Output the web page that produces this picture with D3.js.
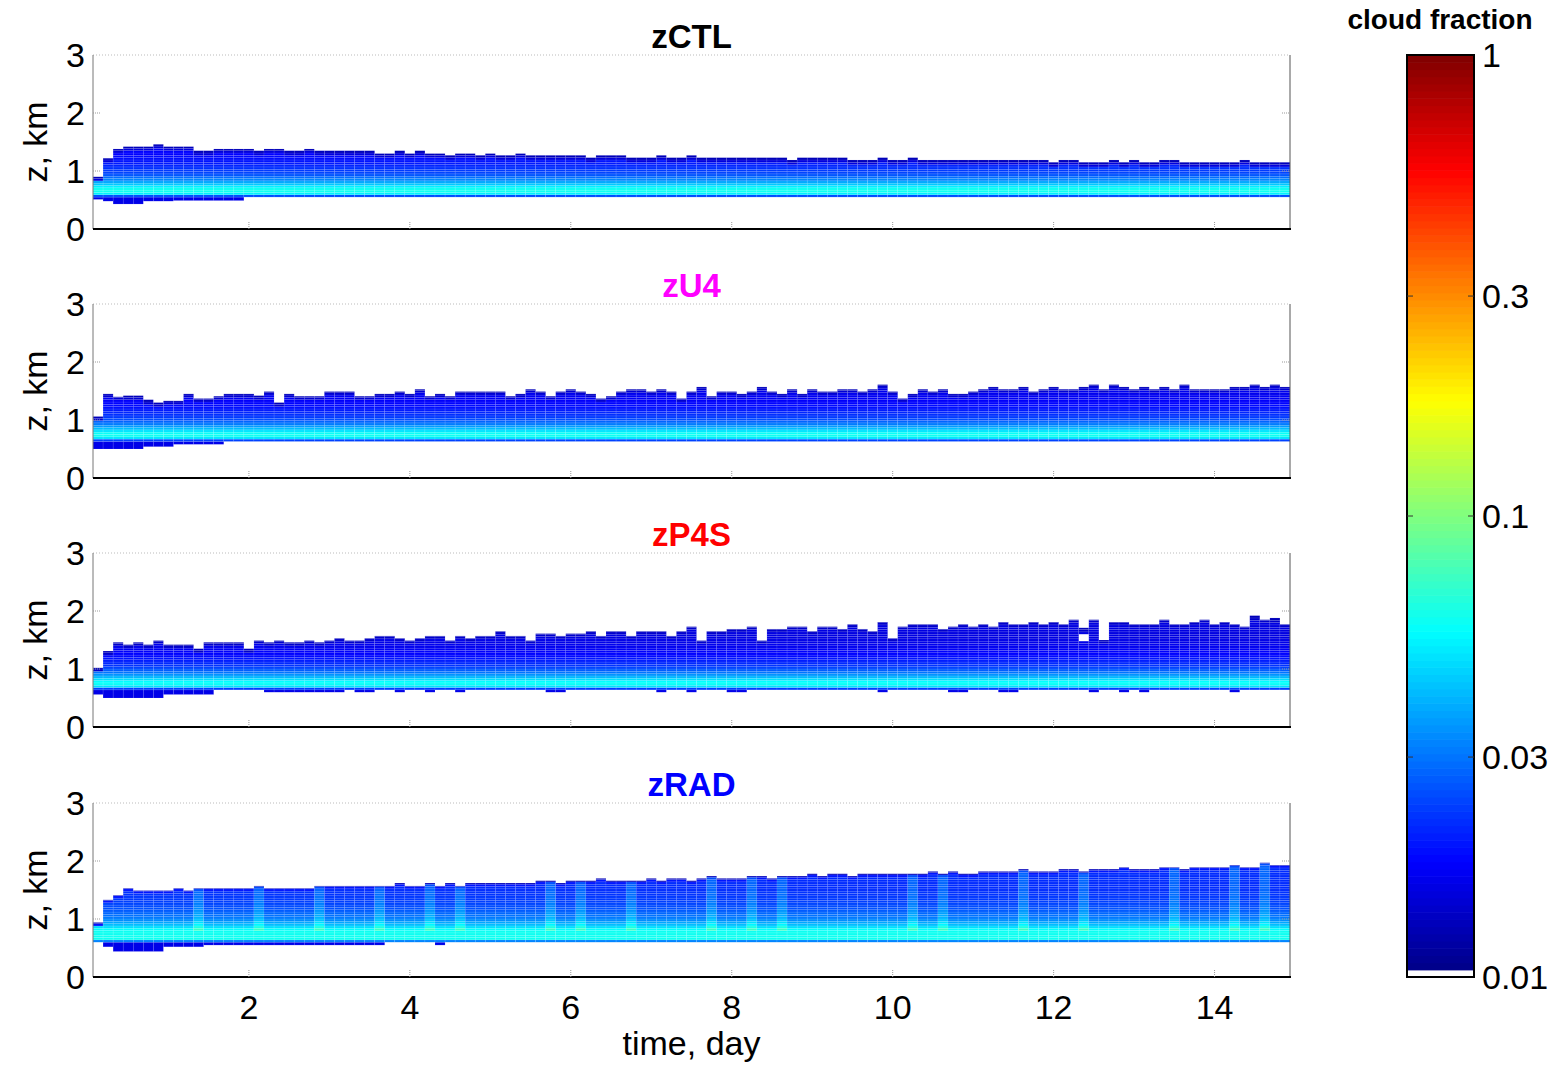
<!DOCTYPE html>
<meta charset="utf-8">
<style>
  body { margin: 0; background: #fff; }
  svg text { font-family: "Liberation Sans", Arial, Helvetica, sans-serif; fill: #000; }
</style>
<body></body>
<script src="https://d3js.org/d3.v7.min.js"></script>
<script>

// ---- data ----
var runs = ["zCTL", "zU4", "zP4S", "zRAD"];
var titleColors = ["#000000", "#ff00ff", "#ff0000", "#0000ff"];

// 3-hourly columns, centre of column k is day k/8
var days = d3.range(1, 120).map(function (k) { return k / 8; });
var dayStep = 1 / 8;
var dz = 0.04;   // km, vertical level spacing

// cloud top height (km) per column
var topsCTL = [0.90,1.22,1.38,1.42,1.42,1.42,1.46,1.42,1.42,1.42,
  1.35,1.35,1.38,1.38,1.38,1.38,1.35,1.38,1.38,1.35,
  1.35,1.38,1.35,1.35,1.35,1.35,1.35,1.35,1.30,1.30,
  1.35,1.30,1.35,1.30,1.30,1.27,1.30,1.30,1.27,1.30,
  1.27,1.27,1.30,1.27,1.27,1.27,1.27,1.27,1.27,1.23,
  1.27,1.27,1.27,1.23,1.23,1.23,1.27,1.23,1.23,1.27,
  1.23,1.23,1.23,1.23,1.23,1.23,1.23,1.23,1.23,1.19,
  1.23,1.23,1.23,1.23,1.23,1.19,1.19,1.19,1.23,1.19,
  1.19,1.23,1.19,1.19,1.19,1.19,1.19,1.19,1.19,1.19,
  1.19,1.19,1.19,1.19,1.19,1.15,1.19,1.19,1.15,1.15,
  1.15,1.19,1.15,1.19,1.15,1.15,1.19,1.19,1.15,1.15,
  1.15,1.15,1.15,1.15,1.19,1.15,1.15,1.15,1.15];

var topsU4 = [1.06,1.45,1.40,1.42,1.42,1.35,1.30,1.33,1.33,1.45,
  1.37,1.37,1.41,1.45,1.45,1.45,1.42,1.49,1.30,1.45,
  1.41,1.41,1.41,1.49,1.49,1.49,1.41,1.41,1.45,1.45,
  1.49,1.45,1.53,1.41,1.45,1.41,1.49,1.49,1.49,1.49,
  1.49,1.41,1.45,1.53,1.49,1.41,1.49,1.53,1.49,1.45,
  1.37,1.41,1.49,1.53,1.53,1.49,1.53,1.49,1.37,1.49,
  1.57,1.41,1.49,1.49,1.45,1.49,1.57,1.49,1.45,1.53,
  1.45,1.53,1.49,1.49,1.53,1.53,1.49,1.53,1.61,1.49,
  1.37,1.45,1.53,1.49,1.53,1.45,1.45,1.49,1.53,1.57,
  1.53,1.53,1.57,1.49,1.53,1.57,1.53,1.53,1.57,1.61,
  1.53,1.61,1.57,1.53,1.57,1.53,1.57,1.53,1.61,1.53,
  1.53,1.53,1.53,1.57,1.57,1.61,1.57,1.61,1.57];

var topsP4S = [1.02,1.31,1.46,1.42,1.46,1.42,1.49,1.42,1.42,1.42,
  1.35,1.46,1.46,1.46,1.46,1.35,1.49,1.46,1.49,1.46,
  1.46,1.49,1.46,1.49,1.53,1.49,1.49,1.53,1.57,1.57,
  1.53,1.49,1.53,1.57,1.57,1.49,1.57,1.53,1.57,1.57,
  1.65,1.57,1.57,1.49,1.61,1.61,1.57,1.61,1.61,1.65,
  1.57,1.65,1.65,1.57,1.65,1.65,1.65,1.57,1.65,1.73,
  1.49,1.65,1.65,1.69,1.69,1.73,1.49,1.69,1.69,1.73,
  1.73,1.65,1.73,1.73,1.69,1.77,1.69,1.65,1.81,1.53,
  1.73,1.77,1.77,1.77,1.69,1.73,1.77,1.73,1.77,1.73,
  1.81,1.77,1.77,1.81,1.77,1.81,1.77,1.85,1.71,1.85,
  1.50,1.81,1.81,1.77,1.77,1.77,1.85,1.77,1.77,1.81,
  1.85,1.77,1.81,1.77,1.73,1.92,1.85,1.88,1.77];

var topsRAD = [0.94,1.33,1.41,1.53,1.49,1.49,1.49,1.49,1.53,1.49,
  1.53,1.53,1.53,1.53,1.53,1.53,1.57,1.53,1.53,1.53,
  1.53,1.53,1.57,1.57,1.57,1.57,1.57,1.57,1.57,1.57,
  1.62,1.57,1.57,1.62,1.57,1.62,1.57,1.62,1.62,1.62,
  1.62,1.62,1.62,1.62,1.66,1.66,1.62,1.66,1.66,1.66,
  1.70,1.66,1.66,1.66,1.66,1.70,1.66,1.70,1.70,1.66,
  1.70,1.74,1.70,1.70,1.70,1.74,1.74,1.70,1.74,1.74,
  1.74,1.78,1.74,1.78,1.78,1.74,1.78,1.78,1.78,1.78,
  1.78,1.78,1.78,1.82,1.78,1.82,1.78,1.78,1.82,1.82,
  1.82,1.82,1.86,1.82,1.82,1.82,1.86,1.86,1.82,1.86,
  1.86,1.86,1.89,1.86,1.86,1.86,1.89,1.89,1.86,1.89,
  1.89,1.89,1.89,1.93,1.89,1.89,1.97,1.93,1.93];

// main cloud base (km) per run
var baseKm = [0.55, 0.63, 0.64, 0.60];

// columns whose cloud reaches below the main base: [firstCol, lastCol, bottom km]
var lowCTL = [[1,1,0.51],[2,2,0.48],[3,5,0.43],[6,8,0.48],[9,15,0.49]];
var lowU4 = [[1,5,0.50],[6,8,0.54],[9,13,0.58]];
var lowP4S = [[1,1,0.56],[2,7,0.50],[8,12,0.56],[18,25,0.60],[27,28,0.60],[31,31,0.60],
  [34,34,0.60],[37,37,0.60],[46,47,0.60],[57,57,0.60],[60,60,0.60],[64,65,0.60],
  [79,79,0.60],[86,87,0.60],[91,92,0.60],[100,100,0.60],[103,103,0.60],[105,105,0.60],[114,114,0.60]];
var lowRAD = [[2,2,0.52],[3,7,0.44],[8,11,0.52],[12,29,0.55],[35,35,0.55]];

// cloud-free gaps inside a column: [col, from km, to km]
var gapsP4S = [[99, 1.47, 1.63]];

// typical cloud fraction by level above the main base
var cfProfile = [0.024,0.05,0.06,0.058,0.05,0.042,0.036,0.031,0.028,0.025,
  0.023,0.022,0.021,0.020,0.019,0.0185,0.018,0.0175,0.017,0.017,
  0.0165,0.0165,0.016,0.016,0.016,0.016,0.016,0.016,0.016,0.016];
var cfTop = [0.013, 0.0145];     // top level, level below top
var cfBelowBase = 0.016;
var runFactor = [1.05, 1.0, 0.97, 1.35];
// brighter columns in zRAD (upper part of the layer)
var brightRAD = [11,17,23,29,34,37,46,49,54,62,66,69,82,85,93,99,108,114,117];

var yTicks = [0, 1, 2, 3];
var xTicks = [2, 4, 6, 8, 10, 12, 14];
var cbTicks = [1, 0.3, 0.1, 0.03, 0.01];

var tops = [topsCTL, topsU4, topsP4S, topsRAD];
var lows = [lowCTL, lowU4, lowP4S, lowRAD];
var gaps = [[], [], gapsP4S, []];
var bright = [[], [], [], brightRAD];

// ---- layout ----
var W = 1566, H = 1066;
var plotL = 93, plotR = 1290, panelH = 174;
var panelTop = [55, 304, 553, 803];

var svg = d3.select("body").append("svg")
    .attr("width", W)
    .attr("height", H);

var x = d3.scaleLinear()
    .domain([days[0] - dayStep / 2, days[days.length - 1] + dayStep / 2])
    .range([plotL, plotR]);

// jet colour map on log10 cloud fraction
function jet(t) {
  var c = function (v) { return Math.round(255 * Math.max(0, Math.min(1, v))); };
  return "rgb(" + c(1.5 - Math.abs(4 * t - 3)) + "," + c(1.5 - Math.abs(4 * t - 2)) + "," + c(1.5 - Math.abs(4 * t - 1)) + ")";
}
var cfScale = d3.scaleLog().domain([0.01, 1]).range([0, 1]).clamp(true);
function cfColor(v) { return jet(cfScale(v)); }

runs.forEach(function (run, p) {
  var g = svg.append("g").attr("transform", "translate(0," + panelTop[p] + ")");
  var y = d3.scaleLinear().domain([0, 3]).range([panelH, 0]);

  // build cells
  var cells = [];
  days.forEach(function (d, i) {
    var col = i + 1;
    var x0 = x(d - dayStep / 2), x1 = x(d + dayStep / 2);
    var top = tops[p][i];
    var base = baseKm[p];
    var isBright = bright[p].indexOf(col) >= 0;
    lows[p].forEach(function (lo) {
      if (col >= lo[0] && col <= lo[1]) {
        cells.push({x0: x0, x1: x1, z0: lo[2], z1: base, cf: cfBelowBase});
      }
    });
    var n = Math.ceil((top - base) / dz - 1e-6);
    for (var j = 0; j < n; j++) {
      var z0 = base + j * dz, z1 = Math.min(top, base + (j + 1) * dz);
      var skip = gaps[p].some(function (gp) {
        return gp[0] === col && z0 >= gp[1] - 1e-6 && z1 <= gp[2] + 1e-6;
      });
      if (skip) continue;
      var f = runFactor[p] * (isBright && j >= 5 ? 1.3 : 1);
      var v = cfProfile[Math.min(j, cfProfile.length - 1)] * f;
      if (j < 5) v = Math.min(v, 0.06);
      if (j === n - 1) v = cfTop[0];
      else if (j === n - 2) v = Math.min(v, cfTop[1] * f);
      cells.push({x0: x0, x1: x1, z0: z0, z1: z1, cf: v});
    }
  });

  g.append("g").selectAll("rect")
    .data(cells)
    .join("rect")
      .attr("x", function (c) { return c.x0; })
      .attr("y", function (c) { return y(c.z1); })
      .attr("width", function (c) { return c.x1 - c.x0; })
      .attr("height", function (c) { return y(c.z0) - y(c.z1); })
      .attr("fill", function (c) { return cfColor(c.cf); })
      .attr("stroke", "rgba(255,255,255,0.18)")
      .attr("stroke-width", 0.5);

  // frame
  g.append("line").attr("x1", plotL).attr("x2", plotR).attr("y1", 0).attr("y2", 0)
    .attr("stroke", "#bbb").attr("stroke-dasharray", "1,2");
  g.append("line").attr("x1", plotL).attr("x2", plotL).attr("y1", 0).attr("y2", panelH)
    .attr("stroke", "#777");
  g.append("line").attr("x1", plotR).attr("x2", plotR).attr("y1", 0).attr("y2", panelH)
    .attr("stroke", "#555");
  g.append("line").attr("x1", plotL).attr("x2", plotR + 1).attr("y1", panelH).attr("y2", panelH)
    .attr("stroke", "#000").attr("stroke-width", 2);

  // y ticks
  yTicks.forEach(function (t) {
    if (t > 0 && t < 3) {
      g.append("line").attr("x1", plotL).attr("x2", plotL + 8).attr("y1", y(t)).attr("y2", y(t))
        .attr("stroke", "#999").attr("stroke-dasharray", "1,1");
      g.append("line").attr("x1", plotR - 8).attr("x2", plotR).attr("y1", y(t)).attr("y2", y(t))
        .attr("stroke", "#999").attr("stroke-dasharray", "1,1");
    }
    g.append("text")
      .attr("x", 85).attr("y", y(t)).attr("dy", "0.36em")
      .attr("text-anchor", "end")
      .style("font-size", "34px")
      .text(t);
  });
  // x ticks
  xTicks.forEach(function (t) {
    g.append("line").attr("x1", x(t)).attr("x2", x(t)).attr("y1", panelH).attr("y2", panelH - 8)
      .attr("stroke", "#999").attr("stroke-dasharray", "1,1");
  });

  g.append("text")
    .attr("transform", "translate(47," + (panelH / 2) + ") rotate(-90)")
    .attr("text-anchor", "middle")
    .style("font-size", "34px")
    .text("z, km");

  g.append("text")
    .attr("x", (plotL + plotR) / 2).attr("y", -7)
    .attr("text-anchor", "middle")
    .style("font-size", "33px").style("font-weight", "bold")
    .style("fill", titleColors[p])
    .text(run);
});

// x axis labels under last panel
xTicks.forEach(function (t) {
  svg.append("text")
    .attr("x", x(t)).attr("y", 1019)
    .attr("text-anchor", "middle")
    .style("font-size", "34px")
    .text(t);
});
svg.append("text")
  .attr("x", (plotL + plotR) / 2).attr("y", 1055)
  .attr("text-anchor", "middle")
  .style("font-size", "34px")
  .text("time, day");

// ---- colour bar ----
var cbX = 1407, cbW = 67, cbTop = 55, cbBot = 977;
var cbY = d3.scaleLog().domain([0.01, 1]).range([cbBot, cbTop]);
var nLev = 128;
var levels = d3.range(nLev);
svg.append("g").selectAll("rect")
  .data(levels)
  .join("rect")
    .attr("x", cbX)
    .attr("y", function (i) { return cbBot - (i + 1) * (cbBot - cbTop) / nLev; })
    .attr("width", cbW)
    .attr("height", (cbBot - cbTop) / nLev + 0.6)
    .attr("fill", function (i) { return i === 0 ? "#fff" : jet((i + 0.5) / nLev); });
svg.append("rect")
  .attr("x", cbX).attr("y", cbTop).attr("width", cbW).attr("height", cbBot - cbTop)
  .attr("fill", "none").attr("stroke", "#000").attr("stroke-width", 2);
cbTicks.forEach(function (t) {
  if (t !== 1 && t !== 0.01) {
    svg.append("line").attr("x1", cbX).attr("x2", cbX + 6).attr("y1", cbY(t)).attr("y2", cbY(t))
      .attr("stroke", "#333");
    svg.append("line").attr("x1", cbX + cbW - 6).attr("x2", cbX + cbW).attr("y1", cbY(t)).attr("y2", cbY(t))
      .attr("stroke", "#333");
  }
  svg.append("text")
    .attr("x", 1482).attr("y", cbY(t)).attr("dy", "0.36em")
    .style("font-size", "34px")
    .text(t);
});
svg.append("text")
  .attr("x", 1440).attr("y", 29)
  .attr("text-anchor", "middle")
  .style("font-size", "28px").style("font-weight", "bold")
  .text("cloud fraction");

</script>
